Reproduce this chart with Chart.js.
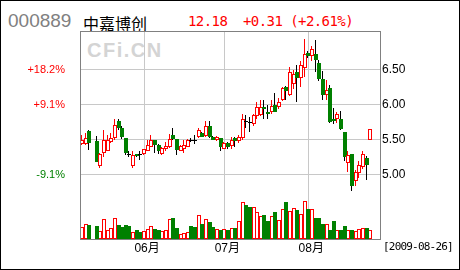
<!DOCTYPE html>
<html>
<head>
<meta charset="utf-8">
<script src="https://cdn.jsdelivr.net/npm/chart.js@4.4.1/dist/chart.umd.min.js"></script>
<style>
  html, body { margin: 0; padding: 0; background: #fff; }
  #wrap { position: relative; width: 460px; height: 270px; overflow: hidden; background: #fff; }
  #chart { position: absolute; left: 0; top: 0; }
  .txt { position: absolute; white-space: pre; line-height: 1; }
  #code { left: 8px; top: 10px; font: 19px 'Liberation Sans', Arial, sans-serif; color: #808080; }
  #name { left: 83px; top: 11px; font: 16px 'Noto Sans CJK SC', sans-serif; color: #000; }
  #quote { left: 188px; top: 13px; font: 14px 'DejaVu Sans Mono', monospace; letter-spacing: -0.57px; color: #ff0000; }
  #mark { left: 87px; top: 39px; font: bold 20px 'Liberation Sans', Arial, sans-serif; letter-spacing: 1.5px; color: #d4d4d4; }
  #date { left: 383px; top: 240px; font: 11px 'DejaVu Sans Mono', monospace; letter-spacing: -0.8px; color: #000; }
  #outline { position: absolute; left: 0; top: 0; width: 460px; height: 270px; box-sizing: border-box; border: 1px solid #000; }
</style>
</head>
<body>
<div id="wrap">
  <div class="txt" id="code">000889</div>
  <div class="txt" id="name">中嘉博创</div>
  <div class="txt" id="quote">12.18  +0.31 (+2.61%)</div>
  <div class="txt" id="mark">CFi.CN</div>
  <canvas id="chart" width="460" height="270" style="width:460px;height:270px"></canvas>
  <div class="txt" id="date">[2009-08-26]</div>
  <div id="outline"></div>
</div>
<script>
// daily candles, 2009-05 .. 2009-08-26 (index 3 = no trading)
const opens = [
    5.43, 5.44, 5.62, null, 5.48, 5.12, 5.31, 5.34, 5.46, 5.52,
    5.76, 5.67, 5.52, 5.29, 5.12, 5.29, 5.29, 5.29, 5.34, 5.40,
    5.49, 5.42, 5.30, 5.36, 5.40, 5.57, 5.51, 5.34, 5.36, 5.40,
    5.50, 5.50, 5.53, 5.60, 5.55, 5.69, 5.54, 5.50, 5.52, 5.37,
    5.45, 5.41, 5.52, 5.48, 5.52, 5.77, 5.75, 5.72, 5.84, 5.85,
    5.96, 5.90, 5.89, 6.00, 5.97, 6.07, 6.25, 6.14, 6.30, 6.46,
    6.38, 6.52, 6.74, 6.70, 6.72, 6.60, 6.36, 6.14, 6.24, 5.80,
    5.79, 5.80, 5.61, 5.16, 5.30, 4.91, 5.02, 5.11, 5.24, 5.50
];
const closes = [
    5.50, 5.52, 5.45, null, 5.18, 5.29, 5.49, 5.50, 5.52, 5.71,
    5.66, 5.54, 5.31, 5.29, 5.28, 5.26, 5.29, 5.36, 5.42, 5.50,
    5.42, 5.33, 5.38, 5.41, 5.51, 5.51, 5.35, 5.41, 5.42, 5.50,
    5.50, 5.50, 5.64, 5.54, 5.70, 5.54, 5.50, 5.53, 5.39, 5.45,
    5.40, 5.49, 5.48, 5.54, 5.79, 5.77, 5.75, 5.85, 5.96, 5.96,
    5.93, 5.86, 5.98, 5.90, 6.04, 6.23, 6.20, 6.47, 6.44, 6.38,
    6.56, 6.72, 6.70, 6.80, 6.64, 6.37, 6.14, 6.21, 5.75, 5.76,
    5.86, 5.65, 5.25, 5.28, 4.83, 5.03, 5.13, 5.29, 5.14, 5.65
];
const highs = [
    5.56, 5.59, 5.64, null, 5.55, 5.31, 5.63, 5.56, 5.59, 5.79,
    5.79, 5.69, 5.52, 5.33, 5.33, 5.30, 5.33, 5.37, 5.50, 5.56,
    5.49, 5.43, 5.40, 5.46, 5.58, 5.67, 5.51, 5.42, 5.49, 5.51,
    5.52, 5.56, 5.66, 5.61, 5.76, 5.76, 5.55, 5.55, 5.52, 5.46,
    5.46, 5.53, 5.54, 5.56, 5.86, 5.85, 5.82, 5.87, 6.03, 6.06,
    6.06, 5.99, 6.07, 6.17, 6.09, 6.25, 6.27, 6.54, 6.50, 6.56,
    6.62, 6.94, 6.77, 6.84, 6.92, 6.63, 6.48, 6.35, 6.28, 5.95,
    5.90, 5.91, 5.61, 5.33, 5.30, 5.06, 5.19, 5.34, 5.27, 5.65
];
const lows = [
    5.42, 5.42, 5.35, null, 5.18, 5.10, 5.25, 5.33, 5.45, 5.50,
    5.64, 5.51, 5.28, 5.25, 5.10, 5.25, 5.21, 5.28, 5.33, 5.39,
    5.31, 5.30, 5.28, 5.34, 5.38, 5.50, 5.28, 5.33, 5.31, 5.39,
    5.47, 5.44, 5.52, 5.53, 5.54, 5.52, 5.49, 5.48, 5.33, 5.36,
    5.37, 5.36, 5.39, 5.45, 5.50, 5.66, 5.61, 5.70, 5.80, 5.83,
    5.80, 5.80, 5.87, 5.89, 5.94, 6.05, 6.06, 6.12, 6.22, 6.04,
    6.25, 6.40, 6.66, 6.62, 6.47, 6.33, 6.07, 6.06, 5.74, 5.72,
    5.73, 5.63, 5.19, 5.04, 4.76, 4.84, 4.95, 5.08, 4.92, 5.50
];
const volumes = [
    35100, 44100, 42000, null, 39000, 24000, 60000, 27000, 32100, 62100,
    42000, 35100, 42000, 39000, 20100, 27000, 21900, 24000, 30000, 39900,
    30000, 27000, 24000, 27000, 59100, 63900, 32100, 14100, 17100, 20100,
    39000, 35100, 72000, 44100, 60000, 51900, 36900, 30000, 27000, 30000,
    27000, 33000, 31500, 54000, 111000, 102000, 96000, 94500, 81000, 69000,
    72000, 54000, 69000, 81000, 57000, 90000, 109500, 84000, 91500, 85500,
    75000, 114000, 90000, 90000, 63000, 63000, 45000, 45000, 27000, 54000,
    27000, 27000, 39000, 27000, 27000, 24000, 30000, 33000, 33000, 27000
];

const monthLabels = ['06月', '07月', '08月'];
const monthStarts = [17, 39, 62];

const basePrice = 5.5;
const priceTicks = [5.0, 5.5, 6.0, 6.5];
const pctTickPrices = [5.0, 6.0, 6.5];

const upColor = '#ff0000';
const downColor = '#008000';

const days = opens.map((o, i) => i).filter(i => opens[i] !== null);
const isUp = i => closes[i] > opens[i];
const isDoji = i => closes[i] === opens[i];

const wickData = days.map(i => ({ x: i, y: [lows[i], highs[i]] }));
const wickColors = days.map(i => isUp(i) ? upColor : '#000000');

const bodyData = days.map(i => ({ x: i, y: [opens[i], closes[i]] }));
const bodyFill = days.map(i => isDoji(i) ? '#000000' : (isUp(i) ? '#ffffff' : downColor));
const bodyLine = days.map(i => isDoji(i) ? '#000000' : (isUp(i) ? upColor : downColor));
const bodyBorder = days.map(i => isDoji(i) ? 0 : 1);

const volUp = days.filter(isUp).map(i => ({ x: i, y: volumes[i] }));
const volDown = days.filter(i => !isUp(i)).map(i => ({ x: i, y: volumes[i] }));

const volPanelShare = 0.183;

// keep bars on whole pixels so the 1px lines stay sharp
const snapBars = {
    id: 'snapBars',
    afterDatasetsUpdate(chart) {
        chart.data.datasets.forEach((ds, di) => {
            const meta = chart.getDatasetMeta(di);
            if (meta.type !== 'bar') return;
            meta.data.forEach(el => {
                const cx = Math.round(el.x);
                el.x = el.width < 2 ? cx - 0.5 : cx;
                const top = Math.round(Math.min(el.y, el.base));
                const bottom = Math.max(top + 1, Math.round(Math.max(el.y, el.base)));
                el.y = top;
                el.base = bottom;
            });
        });
    }
};

const frame = {
    id: 'frame',
    afterDraw(chart) {
        const { ctx, chartArea: a } = chart;
        ctx.save();
        ctx.strokeStyle = '#808080';
        ctx.lineWidth = 1;
        ctx.strokeRect(a.left + 0.5, a.top + 0.5, a.right - a.left, a.bottom - a.top);
        ctx.restore();
    }
};

Chart.defaults.font.family = "'Liberation Sans', 'Noto Sans CJK SC', sans-serif";

const barBase = {
    type: 'bar',
    grouped: false,
    borderSkipped: false,
    inflateAmount: 0
};

new Chart(
    document.getElementById('chart'),
    {
        type: 'bar',
        data: {
            datasets: [
                {
                    ...barBase,
                    label: 'up volume',
                    yAxisID: 'yVol',
                    data: volUp,
                    barThickness: 4,
                    backgroundColor: '#ffffff',
                    borderColor: upColor,
                    borderWidth: 1,
                    order: 4
                },
                {
                    ...barBase,
                    label: 'down volume',
                    yAxisID: 'yVol',
                    data: volDown,
                    barThickness: 4,
                    backgroundColor: downColor,
                    borderColor: downColor,
                    borderWidth: 1,
                    order: 3
                },
                {
                    ...barBase,
                    label: 'wick',
                    yAxisID: 'y',
                    data: wickData,
                    barThickness: 1,
                    backgroundColor: wickColors,
                    borderWidth: 0,
                    order: 2
                },
                {
                    ...barBase,
                    label: 'body',
                    yAxisID: 'y',
                    data: bodyData,
                    barThickness: 4,
                    backgroundColor: bodyFill,
                    borderColor: bodyLine,
                    borderWidth: bodyBorder,
                    order: 1
                }
            ]
        },
        options: {
            responsive: false,
            devicePixelRatio: 1,
            animation: false,
            events: [],
            layout: { padding: { top: 31, left: 0, right: 0, bottom: 0 } },
            plugins: {
                legend: { display: false },
                tooltip: { enabled: false }
            },
            scales: {
                x: {
                    type: 'linear',
                    bounds: 'data',
                    offset: false,
                    min: -0.55,
                    max: 81.65,
                    afterBuildTicks: s => { s.ticks = monthStarts.map(v => ({ value: v })); },
                    afterFit: s => { s.height = 31; },
                    ticks: {
                        autoSkip: false,
                        maxRotation: 0,
                        padding: 2,
                        labelOffset: 3,
                        color: '#000000',
                        font: { size: 12 },
                        callback: (v, i) => monthLabels[i]
                    },
                    grid: { offset: false, color: '#c8c8c8', drawTicks: false },
                    border: { display: false }
                },
                y: {
                    type: 'linear',
                    position: 'right',
                    bounds: 'data',
                    min: 4.08,
                    max: 7.05,
                    afterBuildTicks: s => { s.ticks = priceTicks.map(v => ({ value: v })); },
                    afterFit: s => { s.width = 80; },
                    ticks: {
                        padding: 2,
                        color: '#000000',
                        font: { size: 12 },
                        callback: v => v.toFixed(2)
                    },
                    grid: { color: '#c8c8c8', drawTicks: false },
                    border: { display: false }
                },
                yPct: {
                    type: 'linear',
                    position: 'left',
                    bounds: 'data',
                    min: 4.08,
                    max: 7.05,
                    afterBuildTicks: s => { s.ticks = pctTickPrices.map(v => ({ value: v })); },
                    afterFit: s => { s.width = 80; },
                    ticks: {
                        padding: 7,
                        font: { size: 11 },
                        color: c => c.tick.value > basePrice ? upColor : downColor,
                        callback: v => {
                            const p = (v / basePrice - 1) * 100;
                            return (p > 0 ? '+' : '') + p.toFixed(1) + '%';
                        }
                    },
                    grid: { display: false },
                    border: { display: false }
                },
                yVol: {
                    type: 'linear',
                    display: false,
                    bounds: 'data',
                    min: 0,
                    max: Math.max(...volumes) / volPanelShare
                }
            }
        },
        plugins: [snapBars, frame]
    }
);
</script>
</body>
</html>
